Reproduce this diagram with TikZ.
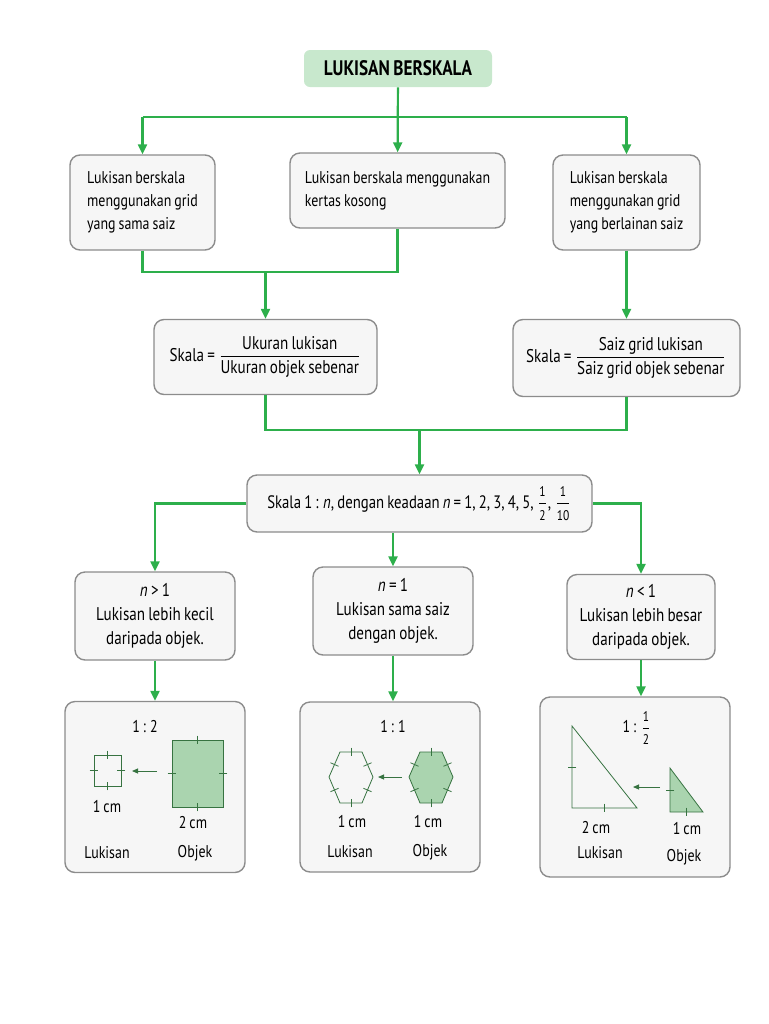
\documentclass[tikz,border=0pt]{standalone}
\usepackage{amsmath}
\usepackage{fontspec}
\setmainfont{PT Sans}[FakeStretch=0.82, WordSpace=0.8]
\usetikzlibrary{positioning, calc, arrows.meta}
\definecolor{lgreen}{RGB}{45,175,75}
\definecolor{titlegreen}{RGB}{200,232,205}
\definecolor{shapegreen}{RGB}{170,212,175}
\definecolor{shapeline}{RGB}{55,115,65}
% small tick across the middle of an edge
\newcommand{\edgetick}[2]{\draw[shp] ($(#1)!0.5!(#2)!2.2pt!90:(#2)$) -- ($(#1)!0.5!(#2)!2.2pt!-90:(#2)$);}
% number fraction with slightly smaller digits
\newcommand{\numfrac}[2]{$\dfrac{\text{\fontsize{7}{8}\selectfont #1}}{\text{\fontsize{7}{8}\selectfont #2}}$}
\begin{document}
\begin{tikzpicture}[
      x=0.5pt, y=-0.5pt,
      box/.style     = {draw=black!45, line width=0.7pt, rounded corners=5pt, fill=gray!7,
                        font=\fontsize{8.5}{11.5}\selectfont, inner sep=0pt},
      casebox/.style = {box, align=center, font=\fontsize{9.2}{12}\selectfont},
      titlebox/.style = {fill=titlegreen, rounded corners=3pt, font=\bfseries\fontsize{10.5}{12}\selectfont,
                        minimum width=94pt, minimum height=18.5pt},
      ln/.style      = {draw=lgreen, line width=1.1pt},
      arr/.style     = {ln, -{Triangle[length=5pt, width=4.5pt]}},
      shp/.style     = {draw=shapeline, line width=0.4pt},
      shpfill/.style = {shp, fill=shapegreen},
      sarr/.style    = {draw=shapeline, line width=0.5pt, -{Triangle[length=3pt, width=2.5pt]}},
      lbl/.style     = {font=\fontsize{8.5}{11}\selectfont, inner sep=1pt}]
    \useasboundingbox (0,0) rectangle (768,1024);
    % title and the three ways of drawing
    \node[titlebox] (title) at (398,68.5) {LUKISAN BERSKALA};
    \node[box, minimum width=72.5pt, minimum height=47.5pt, align=left] (b1) at (142.5,202.5)
      {Lukisan berskala\\menggunakan grid\\yang sama saiz};
    \node[box, minimum width=107.5pt, minimum height=37.5pt, align=left] (b2) at (397.5,190.5)
      {Lukisan berskala menggunakan\\kertas kosong};
    \node[box, minimum width=73.5pt, minimum height=47.5pt, align=left] (b3) at (626.5,202.5)
      {Lukisan berskala\\menggunakan grid\\yang berlainan saiz};
    % the two scale formulas
    \node[box, minimum width=111.5pt, minimum height=37.5pt, font=\fontsize{9.2}{11}\selectfont] (b4) at (265.5,357)
      {Skala = $\dfrac{\text{Ukuran lukisan}}{\text{Ukuran objek sebenar}}$};
    \node[box, minimum width=113.5pt, minimum height=38.5pt, font=\fontsize{9.2}{11}\selectfont] (b5) at (626.5,358)
      {Skala = $\dfrac{\text{Saiz grid lukisan}}{\text{Saiz grid objek sebenar}}$};
    \node[box, minimum width=172.5pt, minimum height=28.5pt, font=\fontsize{9}{11}\selectfont] (b6) at (419.5,503.5)
      {Skala 1 : \textit{n}, dengan keadaan \textit{n} = 1, 2, 3, 4, 5, \numfrac{1}{2}, \numfrac{1}{10}};
    % the three cases of n
    \node[casebox, minimum width=80pt, minimum height=44pt] (b7) at (155,616)
      {\textit{n} > 1\\Lukisan lebih kecil\\daripada objek.};
    \node[casebox, minimum width=80pt, minimum height=44pt] (b8) at (393,611)
      {\textit{n} = 1\\Lukisan sama saiz\\dengan objek.};
    \node[casebox, minimum width=74pt, minimum height=42.5pt] (b9) at (641,617)
      {\textit{n} < 1\\Lukisan lebih besar\\daripada objek.};
    % example boxes
    \node[box, minimum width=90pt, minimum height=85.5pt] (b10) at (155,787) {};
    \node[box, minimum width=90pt, minimum height=85pt]   (b11) at (390,787) {};
    \node[box, minimum width=95pt, minimum height=90pt]   (b12) at (635,787) {};
    % connectors
    \coordinate (split) at (398,117);
    \coordinate (join1) at (265.5,272);
    \coordinate (join2) at (419.5,430);
    \draw[arr] (title) -- (b2);
    \draw[ln]  (b1.north |- split) -- (b3.north |- split);
    \draw[arr] (b1.north |- split) -- (b1.north);
    \draw[arr] (b3.north |- split) -- (b3.north);
    \draw[ln]  (b1.south) |- (join1) -| (b2.south);
    \draw[arr] (join1) -- (b4);
    \draw[arr] (b3) -- (b5);
    \draw[ln]  (b4.south) |- (join2) -| (b5.south);
    \draw[arr] (join2) -- (b6);
    \draw[arr] (b6.west) -| (b7.north);
    \draw[arr] (b6.south -| b8.north) -- (b8.north);
    \draw[arr] (b6.east) -| (b9.north);
    \draw[arr] (b7) -- (b7 |- b10.north);
    \draw[arr] (b8) -- (b8 |- b11.north);
    \draw[arr] (b9) -- (b9 |- b12.north);
    % example 1 : 2 (squares)
    \node[lbl] (r10) at (145,727) {1 : 2};
    \draw[shp] (94,755) rectangle (121,786);
    \filldraw[shpfill] (172,740) rectangle (223,807);
    \foreach \a/\b in {{94,755}/{121,755}, {121,755}/{121,786}, {121,786}/{94,786}, {94,786}/{94,755},
                       {172,740}/{223,740}, {223,740}/{223,807}, {223,807}/{172,807}, {172,807}/{172,740}}
      \edgetick{\a}{\b};
    \draw[sarr] (157,771) -- (132,771);
    \node[lbl] (c10a) at (107,807) {1 cm};
    \node[lbl] (c10b) at (193,823) {2 cm};
    \node[lbl] (d10a) at (107,853) {Lukisan};
    \node[lbl] (d10b) at (195,853) {Objek};
    % example 1 : 1 (hexagons)
    \node[lbl] (r11) at (393,727) {1 : 1};
    \foreach \cx/\sty in {351/shp, 431/shpfill} {
      \draw[\sty] (\cx-11,752) -- (\cx+11,752) -- (\cx+22,777) -- (\cx+11,803)
                  -- (\cx-11,803) -- (\cx-22,777) -- cycle;
      \edgetick{\cx-11,752}{\cx+11,752}
      \edgetick{\cx+11,752}{\cx+22,777}
      \edgetick{\cx+22,777}{\cx+11,803}
      \edgetick{\cx+11,803}{\cx-11,803}
      \edgetick{\cx-11,803}{\cx-22,777}
      \edgetick{\cx-22,777}{\cx-11,752}
    }
    \draw[sarr] (402,777) -- (378,777);
    \node[lbl] (c11a) at (352,822) {1 cm};
    \node[lbl] (c11b) at (428,822) {1 cm};
    \node[lbl] (d11a) at (350,852) {Lukisan};
    \node[lbl] (d11b) at (430,852) {Objek};
    % example 1 : 1/2 (triangles)
    \node[lbl] (r12) at (637,728) {1 : \numfrac{1}{2}};
    \draw[shp] (572,726) -- (572,808) -- (637,808) -- cycle;
    \filldraw[shpfill] (670,768) -- (670,812) -- (703,812) -- cycle;
    \foreach \a/\b in {{572,726}/{572,808}, {572,808}/{637,808}, {670,768}/{670,812}, {670,812}/{703,812}}
      \edgetick{\a}{\b};
    \draw[sarr] (660,787) -- (633,787);
    \node[lbl] (c12a) at (596,828) {2 cm};
    \node[lbl] (c12b) at (687,829) {1 cm};
    \node[lbl] (d12a) at (600,853) {Lukisan};
    \node[lbl] (d12b) at (684,857) {Objek};
\end{tikzpicture}
\end{document}
